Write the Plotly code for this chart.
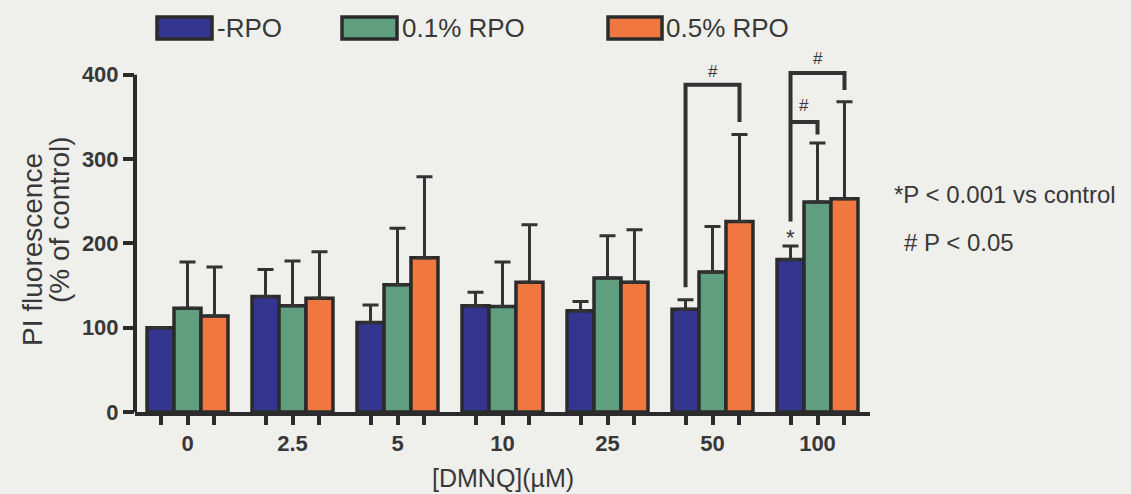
import plotly.graph_objects as go

# DMNQ concentrations (µM) and PI fluorescence (% of control), mean and upper SD
groups = ["0", "2.5", "5", "10", "25", "50", "100"]
neg_rpo = [100, 137, 106, 126, 120, 122, 181]
neg_rpo_err = [0, 32, 21, 16, 11, 11, 16]
rpo_01 = [123, 126, 151, 125, 159, 166, 249]
rpo_01_err = [55, 53, 67, 53, 50, 54, 70]
rpo_05 = [114, 135, 183, 154, 154, 226, 253]
rpo_05_err = [58, 55, 96, 68, 62, 103, 115]

series_names = ["-RPO", "0.1% RPO", "0.5% RPO"]
colors = ["#33358f", "#5f9e7f", "#f07840"]
y_ticks = [0, 100, 200, 300, 400]

# Significance brackets: (group, left bar, right bar, left foot, level, right foot)
brackets = [
    (5, 0, 2, 148, 388, 344),
    (6, 0, 2, 226, 402, 382),
    (6, 0, 1, None, 344, 329),
]
hash_marks = [(5, 0, 2, 404), (6, 0, 2, 419), (6, 0, 1, 364)]
star_marks = [(6, 0, 207)]

INK = "#2b2b2b"
TEXT = "#383838"
BG = "#efefec"
FONT = "Liberation Sans, Arial, Helvetica, sans-serif"

W, H = 1131, 494
ML, MR, MT, MB = 135, 261, 41, 82
BARGAP = 0.229
BAR_W = (1 - BARGAP) / 3
Y_MAX = 440
x_idx = list(range(len(groups)))


def bar_x(g, k):
    return g + (k - 1) * BAR_W


def px_x(px):
    return (px - ML) / (W - ML - MR)


def px_y(py):
    return (H - MB - py) / (H - MT - MB)


fig = go.Figure()
for name, vals, errs, col in zip(series_names,
                                 [neg_rpo, rpo_01, rpo_05],
                                 [neg_rpo_err, rpo_01_err, rpo_05_err],
                                 colors):
    fig.add_trace(go.Bar(
        x=x_idx, y=vals, name=name,
        marker=dict(color=col, line=dict(color=INK, width=3.5)),
        error_y=dict(type="data", symmetric=False, array=errs,
                     arrayminus=[0] * len(errs), color="#333333",
                     thickness=3, width=8),
    ))

shapes = []
# y axis line from 0 to 400 only
shapes.append(dict(type="line", xref="paper", yref="y", x0=0, x1=0,
                   y0=0, y1=max(y_ticks), line=dict(color=INK, width=4)))

for g, a, b, foot_l, level, foot_r in brackets:
    xa, xb = bar_x(g, a), bar_x(g, b)
    if foot_l is None:
        path = f"M {xa},{level} L {xb},{level} L {xb},{foot_r}"
    else:
        path = f"M {xa},{foot_l} L {xa},{level} L {xb},{level} L {xb},{foot_r}"
    shapes.append(dict(type="path", xref="x", yref="y", path=path,
                       line=dict(color="#333333", width=4)))

annotations = []
for g, a, b, yv in hash_marks:
    annotations.append(dict(x=(bar_x(g, a) + bar_x(g, b)) / 2, y=yv,
                            xref="x", yref="y", text="#", showarrow=False,
                            font=dict(family=FONT, size=17, color=TEXT)))
for g, k, yv in star_marks:
    annotations.append(dict(x=bar_x(g, k), y=yv, xref="x", yref="y",
                            text="*", showarrow=False,
                            font=dict(family=FONT, size=22, color=TEXT)))

# legend swatches and labels
legend_items = [(157, 212, 215), (342, 397, 400), (608, 662, 664)]
for (x0, x1, tx), name, col in zip(legend_items, series_names, colors):
    shapes.append(dict(type="rect", xref="paper", yref="paper",
                       x0=px_x(x0), x1=px_x(x1), y0=px_y(39), y1=px_y(17),
                       fillcolor=col, line=dict(color=INK, width=3.5)))
    annotations.append(dict(x=px_x(tx), y=px_y(28), xref="paper", yref="paper",
                            text=name, showarrow=False, xanchor="left",
                            yanchor="middle",
                            font=dict(family=FONT, size=26, color=TEXT)))

# axis titles
annotations.append(dict(x=px_x(33), y=px_y(250), xref="paper", yref="paper",
                        text="PI fluorescence", textangle=-90, showarrow=False,
                        xanchor="center", yanchor="middle",
                        font=dict(family=FONT, size=28, color=TEXT)))
annotations.append(dict(x=px_x(59), y=px_y(220), xref="paper", yref="paper",
                        text="(% of control)", textangle=-90, showarrow=False,
                        xanchor="center", yanchor="middle",
                        font=dict(family=FONT, size=28, color=TEXT)))
annotations.append(dict(x=0.5, y=px_y(478), xref="paper", yref="paper",
                        text="[DMNQ](µM)", showarrow=False,
                        xanchor="center", yanchor="middle",
                        font=dict(family=FONT, size=25, color=TEXT)))

# significance key
annotations.append(dict(x=px_x(892), y=px_y(194), xref="paper", yref="paper",
                        text="*P &lt; 0.001 vs control", showarrow=False,
                        xanchor="left", yanchor="middle",
                        font=dict(family=FONT, size=24, color=TEXT)))
annotations.append(dict(x=px_x(902), y=px_y(243), xref="paper", yref="paper",
                        text="# P &lt; 0.05", showarrow=False,
                        xanchor="left", yanchor="middle",
                        font=dict(family=FONT, size=24, color=TEXT)))

minor_vals = [g + d for g in x_idx for d in (-BAR_W, BAR_W)]

fig.update_layout(
    width=W, height=H,
    margin=dict(l=ML, r=MR, t=MT, b=MB, pad=0),
    paper_bgcolor=BG, plot_bgcolor=BG,
    barmode="group", bargap=BARGAP, bargroupgap=0,
    showlegend=False,
    shapes=shapes, annotations=annotations,
    font=dict(family=FONT, color=TEXT),
    xaxis=dict(
        range=[-0.5, len(groups) - 0.5],
        tickmode="array", tickvals=x_idx, ticktext=groups,
        ticks="outside", ticklen=9, tickwidth=4, tickcolor=INK,
        tickfont=dict(family=FONT, size=22, color=TEXT, weight="bold"),
        minor=dict(tickmode="array", tickvals=minor_vals, ticks="outside",
                   ticklen=9, tickwidth=4, tickcolor=INK, showgrid=False),
        showline=True, linecolor=INK, linewidth=4,
        showgrid=False, zeroline=False, fixedrange=True,
    ),
    yaxis=dict(
        range=[0, Y_MAX],
        tickmode="array", tickvals=y_ticks,
        ticks="outside", ticklen=11, tickwidth=4, tickcolor=INK,
        tickfont=dict(family=FONT, size=22, color=TEXT, weight="bold"),
        showline=False, showgrid=False, zeroline=False, fixedrange=True,
    ),
)

fig.write_html("out.html")
